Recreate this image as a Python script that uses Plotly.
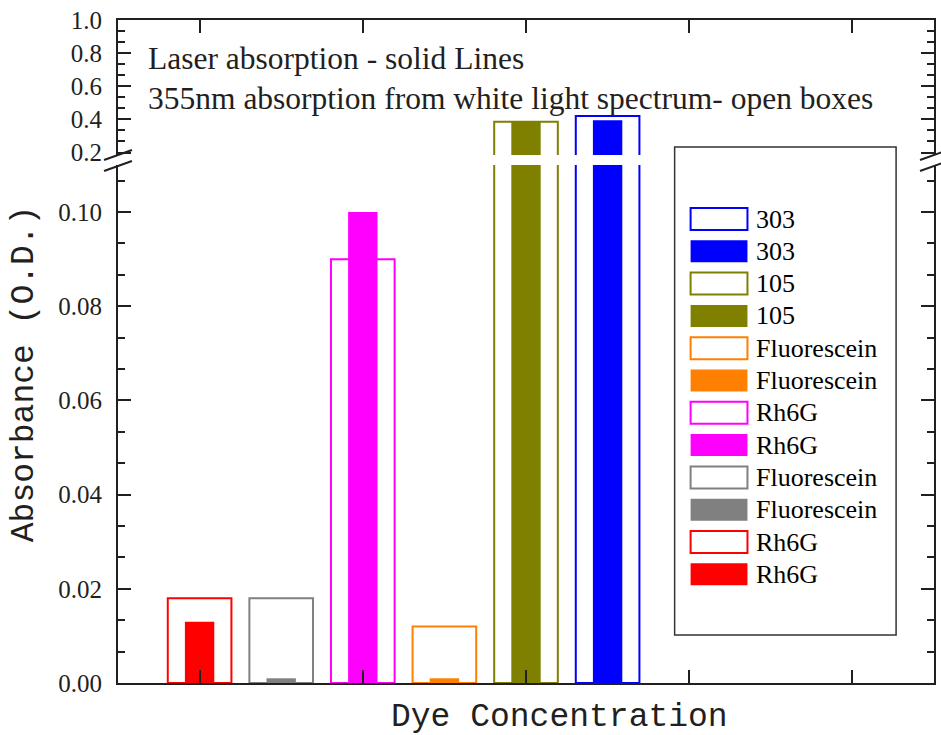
import numpy as np
import plotly.graph_objects as go

# ---- data -------------------------------------------------------------
dyes = ["Rh6G", "Fluorescein", "Rh6G", "Fluorescein", "105", "303"]
dye_colors = ["#ff0000", "#808080", "#ff00ff", "#ff8000", "#808000", "#0000ff"]
bar_positions = [1.0, 1.5, 2.0, 2.5, 3.0, 3.5]
white_light_355nm = [0.018, 0.018, 0.090, 0.012, 0.385, 0.420]   # open boxes
laser_absorption = [0.013, 0.001, 0.100, 0.001, 0.385, 0.395]    # solid bars

x_ticks = [1, 2, 3, 4, 5]
lower_ticks = [0.00, 0.02, 0.04, 0.06, 0.08, 0.10]
lower_tick_labels = ["0.00", "0.02", "0.04", "0.06", "0.08", "0.10"]
upper_ticks = [0.2, 0.4, 0.6, 0.8, 1.0]
upper_tick_labels = ["0.2", "0.4", "0.6", "0.8", "1.0"]

note_lines = ["Laser absorption - solid Lines",
              "355nm absorption from white light spectrum- open boxes"]
x_title = "Dye Concentration"
y_title = "Absorbance (O.D.)"

# ---- geometry ---------------------------------------------------------
W_FIG, H_FIG = 941, 735
M_L, M_R, M_T, M_B = 118, 5, 20, 52
PW = W_FIG - M_L - M_R
PH = H_FIG - M_T - M_B
AX = "#231f20"
SERIF = "Liberation Serif, Times New Roman, serif"
MONO = "Liberation Mono, Courier New, monospace"


def px(x):
    """pixel column -> paper x"""
    return (x - M_L) / PW


def py(y):
    """pixel row -> paper y"""
    return (H_FIG - M_B - y) / PH


lower_dom = [0.0, py(165)]
upper_dom = [py(155), 1.0]

fig = go.Figure()

for xa, ya in [("x", "y"), ("x2", "y2")]:
    fig.add_trace(go.Bar(
        x=bar_positions, y=white_light_355nm, width=0.39,
        marker=dict(color="rgba(0,0,0,0)", line=dict(color=dye_colors, width=2)),
        xaxis=xa, yaxis=ya, showlegend=False, hoverinfo="x+y"))
    fig.add_trace(go.Bar(
        x=bar_positions, y=laser_absorption, width=0.18,
        marker=dict(color=dye_colors, line=dict(width=0)),
        xaxis=xa, yaxis=ya, showlegend=False, hoverinfo="x+y"))

common_x = dict(range=[0.5, 5.5], tickmode="array", tickvals=x_ticks,
                showticklabels=False, ticks="inside", ticklen=13, tickwidth=2,
                tickcolor=AX, showline=True, linewidth=2, linecolor=AX,
                showgrid=False, zeroline=False)

common_y = dict(ticks="inside", ticklen=13, tickwidth=2, tickcolor=AX,
                showline=True, linewidth=2, linecolor=AX, mirror="ticks",
                showgrid=False, zeroline=False, ticklabelstandoff=9,
                tickfont=dict(family=SERIF, size=25, color=AX))

fig.update_layout(
    width=W_FIG, height=H_FIG,
    margin=dict(l=M_L, r=M_R, t=M_T, b=M_B),
    paper_bgcolor="white", plot_bgcolor="white",
    barmode="overlay", showlegend=False,
    xaxis=dict(anchor="y", domain=[0, 1], side="bottom", **common_x),
    xaxis2=dict(anchor="y2", domain=[0, 1], side="top", matches="x", **common_x),
    yaxis=dict(anchor="x", domain=lower_dom, range=[0, 0.110],
               tickmode="array", tickvals=lower_ticks, ticktext=lower_tick_labels,
               minor=dict(tickmode="array",
                          tickvals=list(np.arange(0, 0.1101, 0.02 / 3)),
                          ticks="inside", ticklen=7, tickwidth=2, tickcolor=AX,
                          showgrid=False),
               **common_y),
    yaxis2=dict(anchor="x2", domain=upper_dom, range=[0.185, 1.0],
                tickmode="array", tickvals=upper_ticks, ticktext=upper_tick_labels,
                minor=dict(tickmode="array",
                           tickvals=list(np.arange(0.2, 1.001, 0.2 / 3)),
                           ticks="inside", ticklen=7, tickwidth=2, tickcolor=AX,
                           showgrid=False),
                **common_y),
)

shapes = []
annotations = []

# axis-break marks on both vertical edges
for xc in (M_L, M_L + PW):
    for y0 in (160, 171):
        shapes.append(dict(type="line", xref="paper", yref="paper",
                           x0=px(xc - 14), y0=py(y0), x1=px(xc + 14), y1=py(y0 - 10),
                           line=dict(color=AX, width=2)))

# legend box
shapes.append(dict(type="rect", xref="paper", yref="paper",
                   x0=px(676), y0=py(635), x1=px(898), y1=py(147),
                   line=dict(color="#333333", width=1.5), fillcolor="rgba(0,0,0,0)"))

row = 0
for name, col in zip(reversed(dyes), reversed(dye_colors)):
    for filled in (False, True):
        yc = 219 + 32.3 * row
        shapes.append(dict(type="rect", xref="paper", yref="paper",
                           x0=px(692), x1=px(749), y0=py(yc + 11), y1=py(yc - 11),
                           line=dict(color=col, width=0 if filled else 2),
                           fillcolor=col if filled else "white"))
        annotations.append(dict(text=name, xref="paper", yref="paper",
                                x=px(756), y=py(yc), xanchor="left", yanchor="middle",
                                showarrow=False,
                                font=dict(family=SERIF, size=26, color="black")))
        row += 1

# note text
for i, line in enumerate(note_lines):
    annotations.append(dict(text=line, xref="paper", yref="paper",
                            x=px(146), y=py(58 + 40 * i), xanchor="left",
                            yanchor="middle", showarrow=False,
                            font=dict(family=SERIF, size=31.5, color=AX)))

# axis titles
annotations.append(dict(text=x_title, xref="paper", yref="paper",
                        x=px(561), y=py(717), xanchor="center", yanchor="middle",
                        showarrow=False, font=dict(family=MONO, size=33, color=AX)))
annotations.append(dict(text=y_title, xref="paper", yref="paper",
                        x=px(24), y=py(374), xanchor="center", yanchor="middle",
                        textangle=-90, showarrow=False,
                        font=dict(family=MONO, size=33, color=AX)))

fig.update_layout(shapes=shapes, annotations=annotations)

fig.write_html("out.html")
